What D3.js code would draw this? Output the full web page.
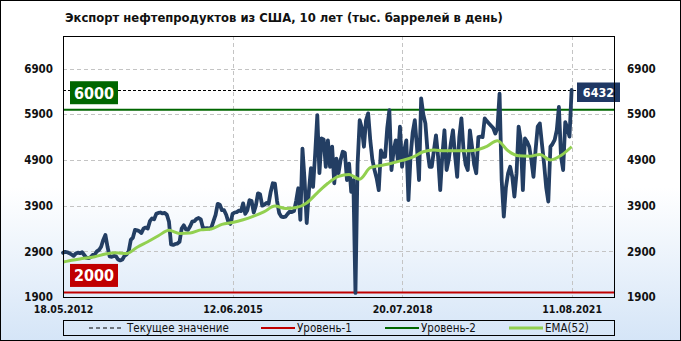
<!DOCTYPE html>
<html>
<head>
<meta charset="utf-8">
<script src="https://cdn.jsdelivr.net/npm/d3@7"></script>
<style>
body { margin: 0; background: #fff; }
svg text { font-family: "DejaVu Sans Condensed", "DejaVu Sans", sans-serif; }
</style>
</head>
<body>
<div id="chart"></div>
<script>
// weekly series sampled every 2 weeks, first point 18.05.2012
var titleText = "Экспорт нефтепродуктов из США, 10 лет (тыс. баррелей в день)";
var startDate = new Date(2012, 4, 18);
var exportValues = [
  2870,2890,2880,2860,2830,2800,2850,2870,2860,2880,
  2820,2760,2750,2770,2820,2830,2900,2930,3000,3150,
  3260,3000,2790,2780,2800,2790,2720,2700,2720,2800,
  2830,2900,3150,3200,3370,3360,3340,3300,3400,3420,
  3400,3560,3620,3600,3720,3740,3750,3730,3740,3700,
  3550,3050,3040,3060,3070,3110,3400,3470,3380,3370,
  3450,3550,3560,3610,3630,3600,3420,3400,3410,3400,
  3420,3560,3700,3940,3920,3800,3800,3700,3550,3500,
  3720,3750,3760,3790,3780,3950,3720,3800,4020,4000,
  3750,3900,4170,4150,3900,3920,3960,3940,4200,4390,
  4380,4000,3740,3660,3650,3660,3720,3770,3760,3780,
  4000,4280,3590,5150,4460,3520,4200,4720,4310,5040,
  5880,4610,5370,5350,4750,5330,4750,5190,4390,4930,
  4610,4900,5080,5060,4460,4820,4200,4460,1990,4800,
  5770,5600,5190,5770,5920,5330,4900,4680,4500,4240,
  5110,4970,4970,5600,5990,4680,5100,5330,4900,5630,
  4750,5100,5330,4020,4970,5500,5770,5200,4460,6250,
  5900,5700,5100,4750,4750,5100,5440,4970,4240,5000,
  5550,4680,4900,5260,5550,5000,4530,5400,5810,5120,
  4800,4680,5550,5190,4800,4610,5400,5410,5400,5810,
  5750,5700,5650,5600,5480,5600,6350,4460,3660,4300,
  4600,4750,4530,4100,4600,5630,5330,4240,5370,5300,
  5190,4900,4530,5120,5630,5700,5250,4820,4300,3990,
  5190,5250,5340,5550,6060,4970,4680,5730,5600,5410,
  6432
];
// EMA(52), one reading every 5 points of exportValues
var emaStep = 5;
var emaValues = [
  2665,2710,2750,2780,2840,2870,2850,2990,3110,3240,
  3360,3290,3300,3370,3390,3490,3530,3590,3670,3770,
  3890,3840,3860,3960,4180,4390,4540,4580,4480,4730,
  4780,4830,4890,4960,5080,5116,5100,5100,5100,5120,
  5200,5320,5100,4990,4980,5020,4900,5000,5190
];
var levelValues = [2000, 6000];          // Уровень-1, Уровень-2
var xTickIdx = [0, 80, 160, 240];
var xTickLabels = ["18.05.2012", "12.06.2015", "20.07.2018", "11.08.2021"];
var yTicks = [1900, 2900, 3900, 4900, 5900, 6900];
var legendLabels = ["Текущее значение", "Уровень-1", "Уровень-2", "EMA(52)"];

(function() {

    var lastValue = exportValues[exportValues.length - 1];
    var categories = exportValues.map(function(d, i) { return d3.timeDay.offset(startDate, i * 14); });

    var width = 681, height = 341,
        pLeft = 63, pRight = 614, pTop = 36, pBottom = 297;

    var navy = "#233e63", green = "#006600", red = "#c00000", emaColor = "#92d050";

    var x = d3.scaleLinear().domain([0, 260]).range([pLeft, pRight]);
    var y = d3.scaleLinear().domain([1900, 7614]).range([pBottom, pTop]);

    var svg = d3.select("#chart").append("svg")
        .attr("width", width)
        .attr("height", height);

    var grad = svg.append("defs").append("linearGradient")
        .attr("id", "bg")
        .attr("x1", 0).attr("y1", 0).attr("x2", 0).attr("y2", 1);
    grad.append("stop").attr("offset", "0%").attr("stop-color", "#ffffff");
    grad.append("stop").attr("offset", "55%").attr("stop-color", "#ffffff");
    grad.append("stop").attr("offset", "100%").attr("stop-color", "#d5e5f7");

    svg.append("rect")
        .attr("x", 0.5).attr("y", 0.5)
        .attr("width", width - 1).attr("height", height - 1)
        .style("fill", "url(#bg)")
        .style("stroke", "black")
        .style("stroke-width", 1);

    // title
    svg.append("text")
        .attr("x", 65)
        .attr("y", 22)
        .style("font-size", "12.9px")
        .style("font-weight", "bold")
        .style("fill", "#111")
        .text(titleText);

    // grid
    var grid = svg.append("g").attr("class", "grid");
    grid.selectAll("line.h")
        .data(yTicks)
        .enter().append("line")
            .attr("class", "h")
            .attr("x1", pLeft).attr("x2", pRight)
            .attr("y1", function(d) { return Math.round(y(d)) + 0.5; })
            .attr("y2", function(d) { return Math.round(y(d)) + 0.5; })
            .style("stroke", "#c4c4c4")
            .style("stroke-dasharray", "4,3");
    grid.selectAll("line.v")
        .data(xTickIdx.slice(1))
        .enter().append("line")
            .attr("class", "v")
            .attr("x1", function(d) { return Math.round(x(d)) + 0.5; })
            .attr("x2", function(d) { return Math.round(x(d)) + 0.5; })
            .attr("y1", pTop).attr("y2", pBottom)
            .style("stroke", "#c4c4c4")
            .style("stroke-dasharray", "4,3");

    // levels
    svg.selectAll("line.level")
        .data(levelValues)
        .enter().append("line")
            .attr("class", "level")
            .attr("x1", pLeft).attr("x2", pRight)
            .attr("y1", function(d) { return y(d); })
            .attr("y2", function(d) { return y(d); })
            .style("stroke", function(d, i) { return i ? green : red; })
            .style("stroke-width", 2);

    // current value
    svg.append("line")
        .attr("x1", pLeft).attr("x2", 577)
        .attr("y1", Math.round(y(lastValue)) + 0.5)
        .attr("y2", Math.round(y(lastValue)) + 0.5)
        .style("stroke", "black")
        .style("stroke-dasharray", "3,2");

    // series
    var line = d3.line()
        .x(function(d, i) { return x(i); })
        .y(function(d) { return y(d); });
    svg.append("path")
        .datum(exportValues)
        .attr("d", line)
        .style("fill", "none")
        .style("stroke", navy)
        .style("stroke-width", 3.8)
        .style("stroke-linejoin", "round")
        .style("stroke-linecap", "round");

    var emaLine = d3.line()
        .curve(d3.curveMonotoneX)
        .x(function(d, i) { return x(i * emaStep); })
        .y(function(d) { return y(d); });
    svg.append("path")
        .datum(emaValues)
        .attr("d", emaLine)
        .style("fill", "none")
        .style("stroke", emaColor)
        .style("stroke-width", 3)
        .style("stroke-linejoin", "round");

    // level labels
    var lab = svg.selectAll("g.levelLabel")
        .data(levelValues)
        .enter().append("g")
            .attr("class", "levelLabel")
            .attr("transform", function(d) { return "translate(70," + (y(d) - 28.5) + ")"; });
    lab.append("rect")
        .attr("width", 48).attr("height", 23)
        .style("fill", function(d, i) { return i ? green : red; });
    lab.append("text")
        .attr("x", 24).attr("y", 17.5)
        .attr("text-anchor", "middle")
        .style("font-size", "16px")
        .style("font-weight", "bold")
        .style("fill", "white")
        .text(function(d) { return d; });

    // last value label
    var lv = svg.append("g").attr("transform", "translate(577," + (y(lastValue) - 7.5) + ")");
    lv.append("rect").attr("width", 43).attr("height", 19.5).style("fill", "#1f3864");
    lv.append("text")
        .attr("x", 21.5).attr("y", 14.5)
        .attr("text-anchor", "middle")
        .style("font-size", "12.5px")
        .style("font-weight", "bold")
        .style("fill", "white")
        .text(lastValue);

    // frame
    svg.append("rect")
        .attr("x", pLeft + 0.5).attr("y", pTop + 0.5)
        .attr("width", pRight - pLeft).attr("height", pBottom - pTop)
        .style("fill", "none")
        .style("stroke", "black");

    // axes
    function styleAxis(g, size) {
        g.select(".domain").remove();
        g.selectAll("text")
            .style("font-size", size)
            .style("font-weight", "bold")
            .style("fill", "#111");
    }
    svg.append("g")
        .attr("transform", "translate(" + pLeft + ",0)")
        .call(d3.axisLeft(y).tickValues(yTicks).tickSize(0).tickPadding(10).tickFormat(d3.format("d")))
        .call(styleAxis, "11.5px");
    svg.append("g")
        .attr("transform", "translate(" + pRight + ",0)")
        .call(d3.axisRight(y).tickValues(yTicks).tickSize(0).tickPadding(13).tickFormat(d3.format("d")))
        .call(styleAxis, "11.5px");
    svg.append("g")
        .attr("transform", "translate(0," + pBottom + ")")
        .call(d3.axisBottom(x).tickValues(xTickIdx).tickSize(0).tickPadding(9)
            .tickFormat(function(d, i) { return xTickLabels[i]; }))
        .call(styleAxis, "10.5px");

    // legend
    var legend = svg.append("g").attr("class", "legend");
    legend.append("rect")
        .attr("x", pLeft + 0.5).attr("y", 320.5)
        .attr("width", pRight - pLeft).attr("height", 15)
        .style("fill", "none")
        .style("stroke", "black");
    var legendItems = [
        {x: 89, color: "black", w: 1, dash: "4,3"},
        {x: 261, color: red, w: 2, dash: null},
        {x: 385, color: green, w: 2, dash: null},
        {x: 509, color: emaColor, w: 3, dash: null}
    ];
    var li = legend.selectAll("g.item")
        .data(legendItems)
        .enter().append("g")
            .attr("class", "item")
            .attr("transform", function(d) { return "translate(" + d.x + ",328)"; });
    li.append("line")
        .attr("x1", 0).attr("x2", 34)
        .style("stroke", function(d) { return d.color; })
        .style("stroke-width", function(d) { return d.w; })
        .style("stroke-dasharray", function(d) { return d.dash; });
    li.append("text")
        .attr("x", function(d, i) { return i === 0 ? 38 : 36; })
        .attr("y", 4)
        .style("font-size", "11.5px")
        .style("fill", "#111")
        .text(function(d, i) { return legendLabels[i]; });

}());
</script>
</body>
</html>
